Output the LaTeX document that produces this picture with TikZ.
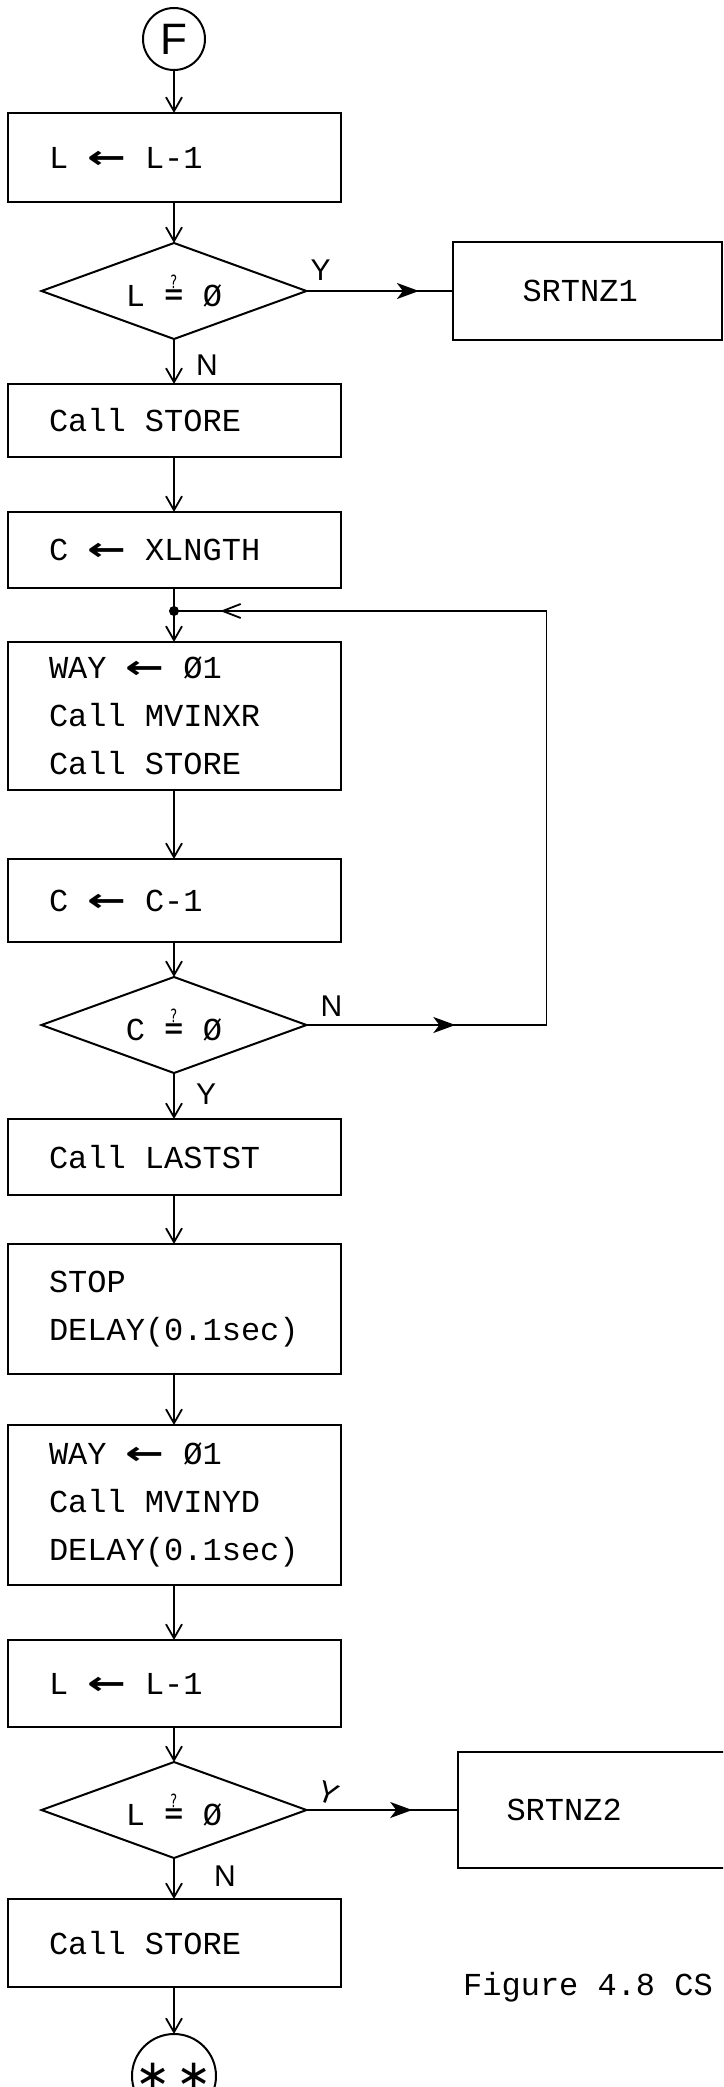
\documentclass[tikz,border=0pt]{standalone}
\usepackage{fontspec}
\usepackage{graphicx}
\usepackage{tikz}
\usetikzlibrary{shapes.geometric, arrows.meta, positioning, decorations.markings}

\newfontfamily\typer{Liberation Mono}
\newfontfamily\hand{Liberation Sans}
\newfontfamily\symfont{DejaVu Sans}

% typewriter text, fixed 19.2pt pitch for letters and spaces
\newcommand{\tw}{\typer\fontsize{32}{48}\selectfont\fontdimen2\font=19.2pt\fontdimen3\font=0pt\fontdimen4\font=0pt}
% assignment arrow, two typewriter cells wide
\newcommand{\asg}{\makebox[38.4pt]{\scalebox{1.45}[1]{\symfont\bfseries ←}}}
% "equal?" test sign, one cell wide
\newcommand{\qeq}{\makebox[19.2pt]{\scalebox{0.8}[1.15]{\symfont ≟}}}

\begin{document}
\begin{tikzpicture}[
    x=1pt, y=-1pt,
    node distance=40pt,
    proc/.style={rectangle, draw, line width=2pt, outer sep=0pt, text width=250pt, inner xsep=41.5pt, inner ysep=8pt, align=flush left, font=\tw, execute at begin node={\spaceskip=19.2pt\relax}},
    subr/.style={rectangle, draw, line width=2pt, outer sep=0pt, align=flush left, font=\tw},
    decide/.style={diamond, draw, line width=2pt, outer sep=0pt, aspect=2.8, inner sep=0pt, minimum width=265pt, minimum height=96pt, font=\tw},
    term/.style={circle, draw, line width=2pt, outer sep=0pt, inner sep=0pt},
    lbl/.style={inner sep=0pt, font=\hand\fontsize{30}{30}\selectfont},
    wire/.style={line width=1.8pt},
    flow/.style={wire, -{Straight Barb[length=14pt,width=16pt]}},
    midtip/.style={postaction={decorate, decoration={markings, mark=at position #1 with {\arrow{Stealth[length=22pt,width=16pt,inset=6pt]}}}}},
]

% page frame
\useasboundingbox (0,0) rectangle (723,2087);
\clip (0,0) rectangle (723,2087);

% main column
\node[term, minimum size=62pt, font=\hand\fontsize{44}{44}\selectfont] (f) at (174,39) {F};
\node[proc, minimum height=89pt, below=43pt of f] (b1) {L \asg{} L-1};
\node[decide, below=41pt of b1] (d1) {L \qeq{} Ø};
\node[proc, minimum height=73pt, below=45pt of d1] (sto1) {Call STORE};
\node[proc, minimum height=76pt, below=55pt of sto1] (xl) {C \asg{} XLNGTH};
\coordinate[below=23pt of xl] (join);
\node[proc, minimum height=148pt, below=54pt of xl] (way1) {WAY \asg{} Ø1\\Call MVINXR\\Call STORE};
\node[proc, minimum height=83pt, below=69pt of way1] (dec1) {C \asg{} C-1};
\node[decide, below=35pt of dec1] (d2) {C \qeq{} Ø};
\node[proc, minimum height=76pt, below=46pt of d2] (last) {Call LASTST};
\node[proc, minimum height=130pt, below=49pt of last] (stop) {STOP\\DELAY(0.1sec)};
\node[proc, minimum height=160pt, below=51pt of stop] (way2) {WAY \asg{} Ø1\\Call MVINYD\\DELAY(0.1sec)};
\node[proc, minimum height=87pt, below=55pt of way2] (dec2) {L \asg{} L-1};
\node[decide, below=35pt of dec2] (d3) {L \qeq{} Ø};
\node[proc, minimum height=88pt, below=41pt of d3] (sto2) {Call STORE};
\node[term, minimum size=84pt, font=\symfont\fontsize{42}{42}\selectfont, below=47pt of sto2] (fin) {∗\hspace{6pt}∗};

% exits to the subroutines
\node[subr, text width=129pt, inner xsep=70pt, minimum height=98pt, right=146pt of d1] (srt1) {SRTNZ1};
\node[subr, text width=182pt, inner xsep=49pt, minimum height=116pt, right=151pt of d3] (srt2) {SRTNZ2};

\node[font=\tw, inner sep=0pt, anchor=west] (cap) at (463,1987) {Figure 4.8 CS};

% connectors
\draw[flow] (f) -- (b1);
\draw[flow] (b1) -- (d1);
\draw[flow] (d1) -- (sto1);
\draw[flow] (sto1) -- (xl);
\draw[wire] (xl) -- (join);
\draw[flow] (join) -- (way1);
\draw[flow] (way1) -- (dec1);
\draw[flow] (dec1) -- (d2);
\draw[flow] (d2) -- (last);
\draw[flow] (last) -- (stop);
\draw[flow] (stop) -- (way2);
\draw[flow] (way2) -- (dec2);
\draw[flow] (dec2) -- (d3);
\draw[flow] (d3) -- (sto2);
\draw[flow] (sto2) -- (fin);
\draw[wire, midtip=0.77] (d1) -- (srt1);
\draw[wire, midtip=0.70] (d3) -- (srt2);

% loop back while C is not zero
\draw[wire, postaction={decorate, decoration={markings,
    mark=at position 0.145 with {\arrow{Stealth[length=22pt,width=16pt,inset=6pt]}},
    mark=at position 0.955 with {\arrow{Straight Barb[length=18pt,width=14pt]}}}}]
  (d2.east) -- ++(240,0) |- (join);
\fill (join) circle (5pt);

% branch labels
\node[lbl, above right=10pt and 4pt of d1.east] (y1) {Y};
\node[lbl, below right=16pt and 22pt of d1.south] (n1) {N};
\node[lbl, above right=8pt and 14pt of d2.east] (n2) {N};
\node[lbl, below right=11pt and 22pt of d2.south] (y2) {Y};
\node[lbl, above right=10pt and 9pt of d3.east, rotate=-20] (y3) {Y};
\node[lbl, below right=8pt and 40pt of d3.south] (n3) {N};

\end{tikzpicture}
\end{document}
